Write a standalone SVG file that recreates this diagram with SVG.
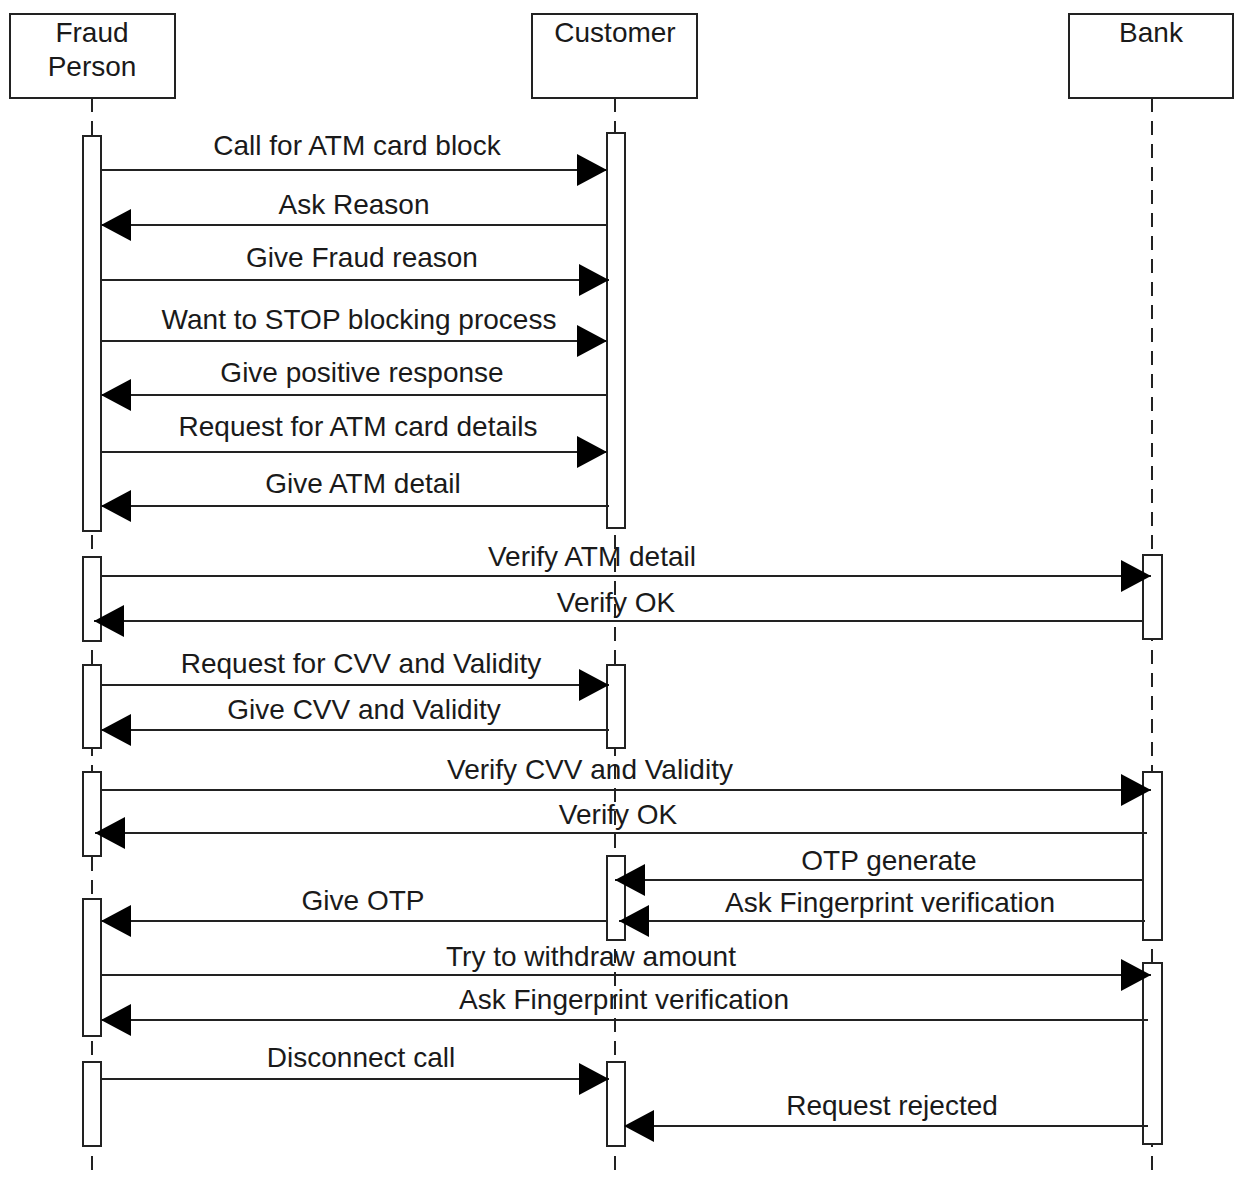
<svg xmlns="http://www.w3.org/2000/svg" width="1234" height="1178" viewBox="0 0 1234 1178">
<style>
  .actor { fill: #fff; stroke: #222; stroke-width: 2; }
  .life { stroke: #222; stroke-width: 2; stroke-dasharray: 14 9; fill: none; }
  .act { fill: #fff; stroke: #222; stroke-width: 2; }
  .msg { stroke: #222; stroke-width: 2; fill: none; marker-end: url(#arrow); }
  text { font-family: "Liberation Sans", Arial, sans-serif; font-size: 28px; fill: #1a1a1a; text-anchor: middle; }
</style>
<defs>
  <marker id="arrow" markerUnits="userSpaceOnUse" markerWidth="31" markerHeight="32" refX="30" refY="16" orient="auto">
    <path d="M0,0 L30,16 L0,32 z" fill="#000"/>
  </marker>
</defs>
<rect width="1234" height="1178" fill="#fff"/>

<g id="lifelines">
  <line class="life" x1="92" y1="98" x2="92" y2="1178"/>
  <line class="life" x1="615" y1="98" x2="615" y2="1178"/>
  <line class="life" x1="1152" y1="98" x2="1152" y2="1178"/>
</g>

<g id="fraud-person">
  <rect class="actor" x="10" y="14" width="165" height="84"/>
  <text x="92" y="42">Fraud</text>
  <text x="92" y="76">Person</text>
  <rect class="act" x="83" y="136" width="18" height="395"/>
  <rect class="act" x="83" y="557" width="18" height="84"/>
  <rect class="act" x="83" y="665" width="18" height="83"/>
  <rect class="act" x="83" y="772" width="18" height="84"/>
  <rect class="act" x="83" y="899" width="18" height="137"/>
  <rect class="act" x="83" y="1062" width="18" height="84"/>
</g>

<g id="customer">
  <rect class="actor" x="532" y="14" width="165" height="84"/>
  <text x="615" y="42">Customer</text>
  <rect class="act" x="607" y="133" width="18" height="395"/>
  <rect class="act" x="607" y="665" width="18" height="83"/>
  <rect class="act" x="607" y="856" width="18" height="84"/>
  <rect class="act" x="607" y="1062" width="18" height="84"/>
</g>

<g id="bank">
  <rect class="actor" x="1069" y="14" width="164" height="84"/>
  <text x="1151" y="42">Bank</text>
  <rect class="act" x="1143" y="555" width="19" height="84"/>
  <rect class="act" x="1143" y="772" width="19" height="168"/>
  <rect class="act" x="1143" y="963" width="19" height="181"/>
</g>

<g id="connectors">
  <line class="msg" x1="101" y1="170" x2="607" y2="170"/>
  <line class="msg" x1="607" y1="225" x2="101" y2="225"/>
  <line class="msg" x1="101" y1="280" x2="609" y2="280"/>
  <line class="msg" x1="101" y1="341" x2="607" y2="341"/>
  <line class="msg" x1="607" y1="395" x2="101" y2="395"/>
  <line class="msg" x1="101" y1="452" x2="607" y2="452"/>
  <line class="msg" x1="609" y1="506" x2="101" y2="506"/>
  <line class="msg" x1="101" y1="576" x2="1151" y2="576"/>
  <line class="msg" x1="1143" y1="621" x2="94" y2="621"/>
  <line class="msg" x1="101" y1="685" x2="609" y2="685"/>
  <line class="msg" x1="609" y1="730" x2="101" y2="730"/>
  <line class="msg" x1="101" y1="790" x2="1151" y2="790"/>
  <line class="msg" x1="1147" y1="833" x2="95" y2="833"/>
  <line class="msg" x1="1143" y1="880" x2="615" y2="880"/>
  <line class="msg" x1="1145" y1="921" x2="619" y2="921"/>
  <line class="msg" x1="607" y1="921" x2="101" y2="921"/>
  <line class="msg" x1="101" y1="975" x2="1151" y2="975"/>
  <line class="msg" x1="1148" y1="1020" x2="101" y2="1020"/>
  <line class="msg" x1="101" y1="1079" x2="609" y2="1079"/>
  <line class="msg" x1="1148" y1="1126" x2="624" y2="1126"/>
</g>

<g id="labels">
  <text x="357" y="155">Call for ATM card block</text>
  <text x="354" y="214">Ask Reason</text>
  <text x="362" y="267">Give Fraud reason</text>
  <text x="359" y="329">Want to STOP blocking process</text>
  <text x="362" y="382">Give positive response</text>
  <text x="358" y="436">Request for ATM card details</text>
  <text x="363" y="493">Give ATM detail</text>
  <text x="592" y="566">Verify ATM detail</text>
  <text x="616" y="612">Verify OK</text>
  <text x="361" y="673">Request for CVV and Validity</text>
  <text x="364" y="719">Give CVV and Validity</text>
  <text x="590" y="779">Verify CVV and Validity</text>
  <text x="618" y="824">Verify OK</text>
  <text x="889" y="870">OTP generate</text>
  <text x="890" y="912">Ask Fingerprint verification</text>
  <text x="363" y="910">Give OTP</text>
  <text x="591" y="966">Try to withdraw amount</text>
  <text x="624" y="1009">Ask Fingerprint verification</text>
  <text x="361" y="1067">Disconnect call</text>
  <text x="892" y="1115">Request rejected</text>
</g>
</svg>
